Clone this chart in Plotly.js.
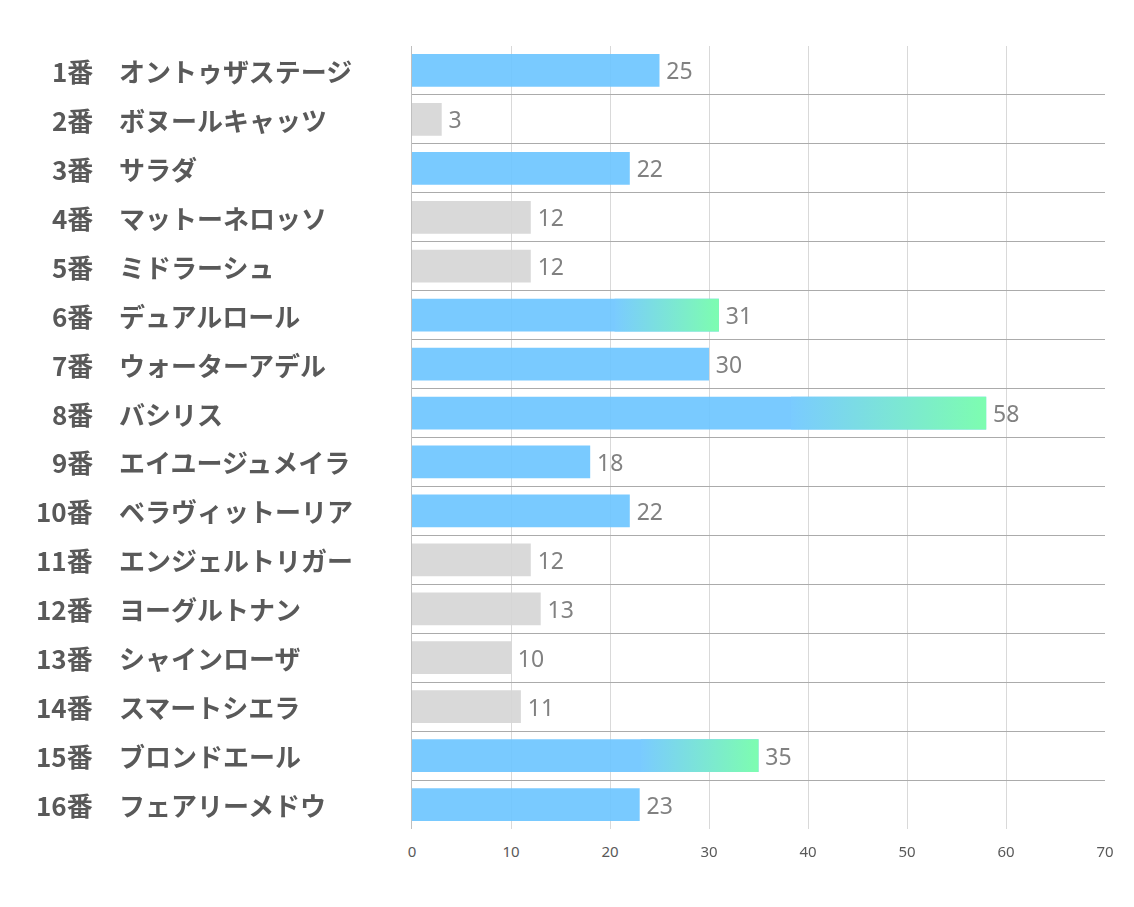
<!DOCTYPE html>
<html>
<head>
<meta charset="utf-8">
<script src="https://cdn.plot.ly/plotly-3.0.1.min.js"></script>
<style>html,body{margin:0;padding:0;background:#fff;}#chart{width:1134px;height:907px;}</style>
</head>
<body>
<div id="chart"></div>
<script>
const numbers = ['1番','2番','3番','4番','5番','6番','7番','8番','9番','10番','11番','12番','13番','14番','15番','16番'];
const names = ['オントゥザステージ','ボヌールキャッツ','サラダ','マットーネロッソ','ミドラーシュ','デュアルロール','ウォーターアデル','バシリス','エイユージュメイラ','ベラヴィットーリア','エンジェルトリガー','ヨーグルトナン','シャインローザ','スマートシエラ','ブロンドエール','フェアリーメドウ'];
const values = [25,3,22,12,12,31,30,58,18,22,12,13,10,11,35,23];
const groups = ['blue','gray','blue','gray','gray','grad','blue','grad','blue','blue','gray','gray','gray','gray','grad','blue'];
const xTicks = [0,10,20,30,40,50,60,70];

const BLUE = '#6EC6FF', GRAY = '#D6D6D6';
const GRAD_START = '#7ACBFF', GRAD_END = '#7DFDB0';
const barW = 0.67, gradFrom = 0.66;
const idx = values.map((_, i) => i);

const traces = [{
  type: 'bar', orientation: 'h',
  y: idx, x: values, width: barW,
  marker: {color: groups.map(g => g === 'gray' ? GRAY : BLUE)},
  opacity: 0.92,
  text: values.map(v => '\u2009' + v), textposition: 'outside', cliponaxis: false,
  textfont: {family: 'Noto Sans, sans-serif', size: 23, color: '#767676'},
  hoverinfo: 'none'
}];

idx.filter(i => groups[i] === 'grad').forEach(i => {
  const v = values[i], a = v * gradFrom, h = barW / 2;
  traces.push({
    type: 'scatter', mode: 'none', fill: 'toself',
    x: [a, v, v, a, a], y: [i - h, i - h, i + h, i + h, i - h],
    fillgradient: {type: 'horizontal', colorscale: [[0, GRAD_START], [1, GRAD_END]]},
    hoverinfo: 'none', showlegend: false
  });
});

const W = 1134, L = 412, R = 29, PW = W - L - R;
const labelFont = {family: 'Noto Sans CJK JP', size: 26, color: '#595959', weight: 'bold'};
const annotations = [];
idx.forEach(i => {
  annotations.push({xref: 'paper', yref: 'y', x: (95 - L) / PW, y: i, text: numbers[i],
    xanchor: 'right', yanchor: 'middle', showarrow: false, font: labelFont});
  annotations.push({xref: 'paper', yref: 'y', x: (117 - L) / PW, y: i, text: names[i],
    xanchor: 'left', yanchor: 'middle', showarrow: false, font: labelFont});
});

const bounds = [];
for (let k = 0; k <= values.length; k++) bounds.push(k - 0.5);

const layout = {
  width: 1134, height: 907,
  margin: {l: L, r: R, t: 46, b: 78},
  paper_bgcolor: '#ffffff', plot_bgcolor: '#ffffff',
  showlegend: false,
  xaxis: {range: [0, 70], tickvals: xTicks, ticktext: xTicks.map(String),
    showgrid: true, gridcolor: '#D9D9D9', gridwidth: 1, zeroline: false,
    ticks: 'outside', ticklen: 9, tickcolor: 'rgba(0,0,0,0)',
    tickfont: {family: 'Noto Sans, sans-serif', size: 15, color: '#595959'},
    showline: false, fixedrange: true},
  yaxis: {range: [values.length - 0.5, -0.5], tickvals: bounds, showticklabels: false,
    ticks: '', showgrid: true, gridcolor: '#ABABAB', gridwidth: 1, zeroline: false,
    showline: true, linecolor: '#BFBFBF', linewidth: 1, fixedrange: true},
  annotations: annotations
};

Plotly.newPlot('chart', traces, layout, {displayModeBar: false, staticPlot: true});
</script>
</body>
</html>
